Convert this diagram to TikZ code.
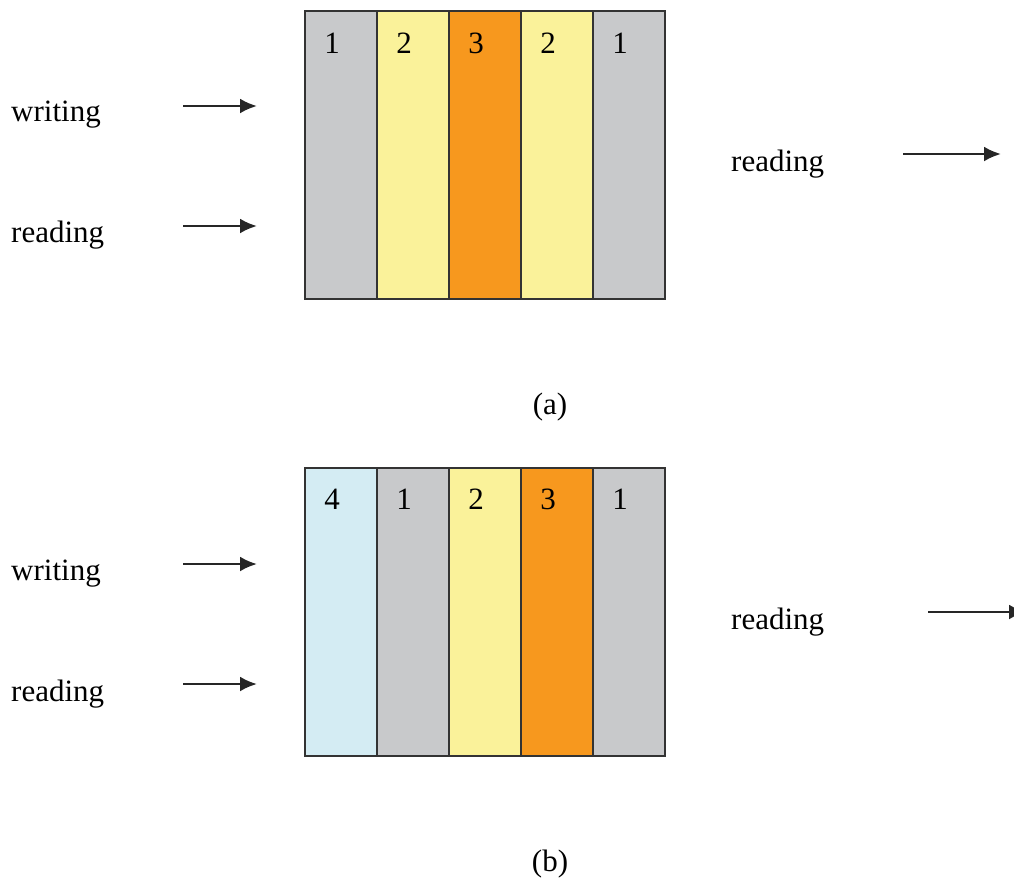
\documentclass[tikz,border=0pt]{standalone}
\usepackage{fontspec}
\setmainfont{Liberation Serif}
\usetikzlibrary{arrows.meta}
\definecolor{cgray}{HTML}{C8C9CB}
\definecolor{cyellow}{HTML}{FAF29A}
\definecolor{corange}{HTML}{F7981E}
\definecolor{cblue}{HTML}{D4ECF3}
\definecolor{cedge}{HTML}{333333}
\tikzset{
  col/.style={draw=cedge, line width=1.6pt, minimum width=72pt, minimum height=288pt, inner sep=0pt, anchor=north west},
  num/.style={font=\fontsize{31}{36}\selectfont, anchor=center},
  lbl/.style={font=\fontsize{31}{36}\selectfont, anchor=west, inner sep=0pt},
  captext/.style={font=\fontsize{31}{36}\selectfont, anchor=center},
  arr/.style={line width=2.6pt, color=black!85, -{Latex[length=17pt,width=15pt]}}
}
\begin{document}
\begin{tikzpicture}[x=1pt,y=-1pt]
\useasboundingbox (0,0) rectangle (1014,879);
\clip (0,0) rectangle (1014,879);
% (a)
\node[col, fill=cgray]   (a1) at (304,10) {};
\node[col, fill=cyellow] (a2) at (376,10) {};
\node[col, fill=corange] (a3) at (448,10) {};
\node[col, fill=cyellow] (a4) at (520,10) {};
\node[col, fill=cgray]   (a5) at (592,10) {};
\node[num] (na1) at (332,43) {1};
\node[num] (na2) at (404,43) {2};
\node[num] (na3) at (476,43) {3};
\node[num] (na4) at (548,43) {2};
\node[num] (na5) at (620,43) {1};
\node[lbl] (wa) at (11,115) {writing};
\node[lbl] (ra) at (11,235) {reading};
\node[lbl] (rra) at (731,164) {reading};
\coordinate (wa0) at (183,106); \coordinate (wa1) at (257,106);
\coordinate (ra0) at (183,226); \coordinate (ra1) at (257,226);
\coordinate (rra0) at (903,154); \coordinate (rra1) at (1001,154);
\draw[arr] (wa0) -- (wa1);
\draw[arr] (ra0) -- (ra1);
\draw[arr] (rra0) -- (rra1);
\node[captext] (capa) at (550,407) {(a)};
% (b)
\node[col, fill=cblue]   (b1) at (304,467) {};
\node[col, fill=cgray]   (b2) at (376,467) {};
\node[col, fill=cyellow] (b3) at (448,467) {};
\node[col, fill=corange] (b4) at (520,467) {};
\node[col, fill=cgray]   (b5) at (592,467) {};
\node[num] (nb1) at (332,499) {4};
\node[num] (nb2) at (404,499) {1};
\node[num] (nb3) at (476,499) {2};
\node[num] (nb4) at (548,499) {3};
\node[num] (nb5) at (620,499) {1};
\node[lbl] (wb) at (11,574) {writing};
\node[lbl] (rb) at (11,694) {reading};
\node[lbl] (rrb) at (731,622) {reading};
\coordinate (wb0) at (183,564); \coordinate (wb1) at (257,564);
\coordinate (rb0) at (183,684); \coordinate (rb1) at (257,684);
\coordinate (rrb0) at (928,612); \coordinate (rrb1) at (1026,612);
\draw[arr] (wb0) -- (wb1);
\draw[arr] (rb0) -- (rb1);
\draw[arr] (rrb0) -- (rrb1);
\node[captext] (capb) at (550,864) {(b)};
\end{tikzpicture}
\end{document}
